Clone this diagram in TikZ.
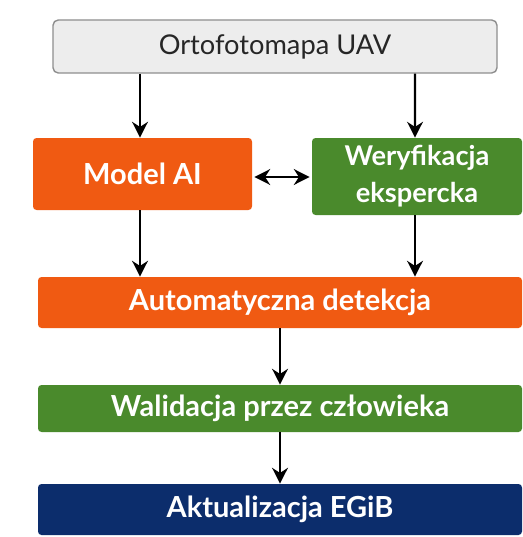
\documentclass[tikz,border=0pt]{standalone}
\usepackage{fontspec}
\setmainfont{Lato}
\usetikzlibrary{arrows.meta}
\usetikzlibrary{positioning}
\usetikzlibrary{calc}
\definecolor{UAV_grau_1}{HTML}{8E8E8E}
\definecolor{UAV_grau_5}{HTML}{EDEDED}
\definecolor{UAV_orange}{HTML}{F05A12}
\definecolor{UAV_gruen}{HTML}{4A8A2C}
\definecolor{UAV_blau}{HTML}{0C2D6C}

\begin{document}
\begin{tikzpicture}[scale=1.0, >={Stealth[length=9pt,width=9pt]}]
%\draw[step=1cm, very thin, red] (0cm,-11cm) grid (11cm,0cm);
\useasboundingbox (0cm,0cm) rectangle (10.44cm,-10.74cm);

\tikzset{box/.style={rectangle, rounded corners=2pt, text=white, font=\fontsize{16.5}{19}\selectfont\bfseries, align=center}}

\node[draw, rectangle, rounded corners=3pt, minimum width=8.88cm, minimum height=1.06cm, UAV_grau_1, fill=UAV_grau_5, thick, text=black!85, font=\fontsize{15.5}{18}\selectfont] (ortofoto) at (5.5cm,-0.93cm) {Ortofotomapa UAV};

\node[box, fill=UAV_orange, minimum width=4.38cm, minimum height=1.44cm] (modelai) at (2.85cm,-3.48cm) {Model AI};
\node[box, fill=UAV_gruen, minimum width=4.2cm, minimum height=1.54cm, font=\fontsize{15.5}{21}\selectfont\bfseries] (weryfikacja) at (8.34cm,-3.53cm) {Weryfikacja\\ekspercka};

\node[box, fill=UAV_orange, minimum width=9.68cm, minimum height=1.02cm] (detekcja) at (5.6cm,-6.05cm) {Automatyczna detekcja};
\node[box, fill=UAV_gruen, minimum width=9.68cm, minimum height=0.94cm] (walidacja) at (5.6cm,-8.17cm) {Walidacja przez człowieka};
\node[box, fill=UAV_blau, minimum width=9.68cm, minimum height=1.02cm] (egib) at (5.6cm,-10.19cm) {Aktualizacja EGiB};

\draw[->, line width=1.3pt] ($ (ortofoto.south) + (-2.7cm,0cm) $) -- ($ (modelai.north) + (-0.05cm,0cm) $);
\draw[->, line width=1.3pt] ($ (ortofoto.south) + (2.8cm,0cm) $) -- ($ (weryfikacja.north) + (-0.04cm,0cm) $);
\draw[<->, line width=1.3pt] ($ (modelai.east) + (0.04cm,-0.06cm) $) -- ($ (modelai.east -| weryfikacja.west) + (-0.04cm,-0.06cm) $);
\draw[->, line width=1.3pt] ($ (modelai.south) + (-0.05cm,0cm) $) -- ($ (modelai.south |- detekcja.north) + (-0.05cm,0cm) $);
\draw[->, line width=1.3pt] ($ (weryfikacja.south) + (-0.04cm,0cm) $) -- ($ (weryfikacja.south |- detekcja.north) + (-0.04cm,0cm) $);
\draw[->, line width=1.3pt] (detekcja) -- (walidacja);
\draw[->, line width=1.3pt] (walidacja) -- (egib);
\end{tikzpicture}
\end{document}
